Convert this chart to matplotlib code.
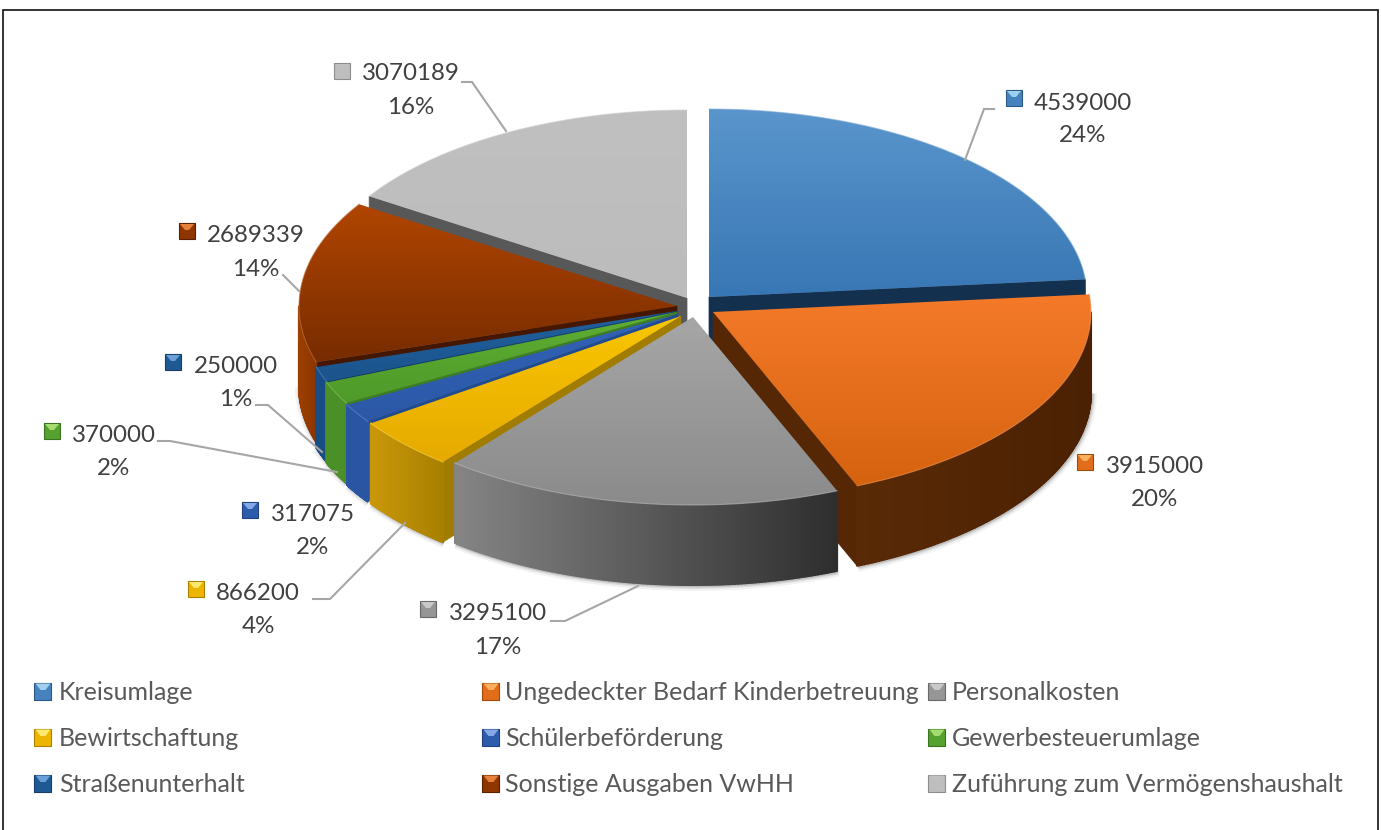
import numpy as np
import matplotlib
matplotlib.use("Agg")
import matplotlib.pyplot as plt
from matplotlib.collections import PolyCollection
from matplotlib.colors import to_rgb
from matplotlib.patches import Polygon, Rectangle

plt.rcParams['font.family'] = ['Lato', 'DejaVu Sans']

# data
categories = ["Kreisumlage", "Ungedeckter Bedarf Kinderbetreuung", "Personalkosten",
              "Bewirtschaftung", "Schülerbeförderung", "Gewerbesteuerumlage",
              "Straßenunterhalt", "Sonstige Ausgaben VwHH", "Zuführung zum Vermögenshaushalt"]
values = [4539000, 3915000, 3295100, 866200, 317075, 370000, 250000, 2689339, 3070189]

# styles: top start, top end, outer wall left, outer wall right, cut wall
top_a = ["#5a95cc", "#f47a2a", "#a6a6a6", "#f9c600", "#3263b8", "#5fae33", "#20609e", "#b04500", "#c0c0c0"]
top_b = ["#3877b5", "#d5620f", "#8b8b8b", "#e6aa00", "#2c58a6", "#4f9a2a", "#1c548c", "#782c00", "#bcbcbc"]
wall_a = ["#14304f", "#5a2a06", "#858585", "#c9980a", "#2a55a3", "#4a8f28", "#174c84", "#9c3f00", "#595959"]
wall_b = ["#14304f", "#4a2103", "#2e2e2e", "#a87f00", "#2a55a3", "#4a8f28", "#174c84", "#8a3600", "#595959"]
cut = ["#14304f", "#552705", "#333333", "#a07c00", "#224a90", "#3f7d22", "#123f70", "#451600", "#585858"]
legend_light = ["#9fd0f0", "#fbb060", "#c8c8c8", "#ffe870", "#85a8e8", "#a5dc70", "#6a9fd8", "#e8803a", "#c0c0c0"]

# slice apex positions in pixels
apex_x = [709, 713, 693, 681, 678, 677, 677, 677, 687]
apex_y = [297, 312, 317, 316, 314, 312, 311, 306, 298]

# labels in pixels: number x/y, percent y, marker x/y
label_x = [1083, 1155, 498, 258, 313, 114, 236, 256, 411]
label_y = [103, 466, 613, 593, 514, 435, 366, 235, 74]
pct_y = [136, 499, 647, 626, 547, 468, 399, 269, 107]
mark_x = [1014, 1085, 428, 196, 250, 52, 173, 187, 342]
mark_y = [98, 462, 609, 589, 510, 431, 362, 231, 71]

leaders = [[(965, 160), (984, 109), (994, 109)],
           [(638, 586), (565, 621), (551, 621)],
           [(405, 523), (330, 599), (313, 599)],
           [(337, 472), (170, 441), (158, 441)],
           [(322, 452), (268, 405), (256, 405)],
           [(299, 291), (283, 275)],
           [(506, 131), (472, 82), (462, 82)]]

RX, RY, DEPTH = 378, 188, 80
TEXT_SIZE = 17.4
LEGEND_SIZE = 18

fig = plt.figure(figsize=(13.81, 8.30), dpi=100)
ax = fig.add_axes([0, 0, 1, 1])
ax.set_xlim(0, 1381)
ax.set_ylim(830, 0)
ax.axis("off")

ax.add_patch(Rectangle((3, 10), 1375, 830, fc="white", ec="#111111", lw=1.2, zorder=0))


def mix(c1, c2, t):
    return tuple(np.array(to_rgb(c1)) * (1 - t) + np.array(to_rgb(c2)) * t)


def rim(i, theta):
    x = apex_x[i] + RX * np.sin(np.radians(theta))
    y = apex_y[i] - RY * np.cos(np.radians(theta))
    return x, y


def draw_top(i, pts, z):
    x0, x1 = pts[:, 0].min(), pts[:, 0].max()
    y0, y1 = pts[:, 1].min(), pts[:, 1].max()
    grad = np.array([[mix(top_a[i], top_b[i], t)] for t in np.linspace(0, 1, 64)])
    im = ax.imshow(grad, extent=(x0, x1, y1, y0), aspect="auto", zorder=z, interpolation="bilinear")
    im.set_clip_path(Polygon(pts, closed=True, transform=ax.transData))


def draw_slice(i, t1, t2, z):
    angles = np.linspace(t1, t2, 120)
    xs, ys = rim(i, angles)
    ax0, ay0 = apex_x[i], apex_y[i]

    # soft shadow below the outer wall
    low = angles[(angles >= 90) & (angles <= 270)]
    if len(low) > 1:
        lx, ly = rim(i, low)
        for lw, alpha in [(7, 0.08), (4, 0.14), (2, 0.2)]:
            ax.plot(lx + 1, ly + DEPTH + 1, color="#555555", lw=lw, alpha=alpha, zorder=z,
                    solid_capstyle="butt")

    # cut faces that look at the viewer
    for theta, seen in [(t1, np.sin(np.radians(t1)) < 0), (t2, np.sin(np.radians(t2)) > 0)]:
        if seen:
            ex, ey = rim(i, theta)
            face = [(ax0, ay0), (ex, ey), (ex, ey + DEPTH), (ax0, ay0 + DEPTH)]
            ax.add_patch(Polygon(face, closed=True, fc=cut[i], ec=cut[i], lw=0.5, zorder=z + 1))

    # outer wall in narrow strips, shaded from left to right
    if len(low) > 1:
        lx, ly = rim(i, low)
        strips = [[(lx[k], ly[k]), (lx[k + 1], ly[k + 1]), (lx[k + 1], ly[k + 1] + DEPTH), (lx[k], ly[k] + DEPTH)]
                  for k in range(len(low) - 1)]
        span = max(lx.max() - lx.min(), 1)
        colors = [mix(wall_a[i], wall_b[i], (lx[k] - lx.min()) / span) for k in range(len(low) - 1)]
        ax.add_collection(PolyCollection(strips, facecolors=colors, edgecolors=colors, linewidths=1.5, zorder=z + 2))

    pts = np.vstack([[ax0, ay0], np.column_stack([xs, ys])])
    draw_top(i, pts, z + 3)
    ax.plot(xs, ys, color=mix(top_a[i], "white", 0.25), lw=0.8, alpha=0.6, zorder=z + 4)


def bevel_marker(x, y, i, size=16):
    h = size / 2
    ax.add_patch(Rectangle((x - h, y - h), size, size, fc=mix(top_a[i], top_b[i], 0.6),
                           ec=mix(top_b[i], "black", 0.25), lw=0.8, zorder=60))
    ax.add_patch(Polygon([(x - h + 1, y - h + 1), (x + h - 1, y - h + 1), (x + h - 6, y - 1), (x - h + 6, y - 1)],
                         closed=True, fc=legend_light[i], ec="none", zorder=61))


# angles come from the values, clockwise from twelve o'clock
total = sum(values)
edges = np.concatenate([[0], np.cumsum(values)]) / total * 360

draw_order = [8, 0, 7, 6, 5, 4, 3, 1, 2]
z = 2
for i in draw_order:
    draw_slice(i, edges[i], edges[i + 1], z)
    z += 5

for path in leaders:
    px, py = zip(*path)
    ax.plot(px, py, color="#a6a6a6", lw=1.5, zorder=55, solid_joinstyle="miter")

for i, v in enumerate(values):
    ax.text(label_x[i], label_y[i], str(v), ha="center", va="center", fontsize=TEXT_SIZE, color="#404040", zorder=62)
    ax.text(label_x[i], pct_y[i], f"{round(100 * v / total)}%", ha="center", va="center",
            fontsize=TEXT_SIZE, color="#404040", zorder=62)
    bevel_marker(mark_x[i], mark_y[i], i)

# legend, three columns by three rows
legend_mx = [43, 491, 937]
legend_tx = [59, 505, 952]
legend_y = [692, 738, 784]
for i, name in enumerate(categories):
    row, col = divmod(i, 3)
    bevel_marker(legend_mx[col], legend_y[row] - 1, i, size=17)
    ax.text(legend_tx[col], legend_y[row], name, ha="left", va="center", fontsize=LEGEND_SIZE,
            color="#595959", zorder=62)

ax.set_xlim(0, 1381)
ax.set_ylim(830, 0)
fig.savefig("out.png", dpi=100)
